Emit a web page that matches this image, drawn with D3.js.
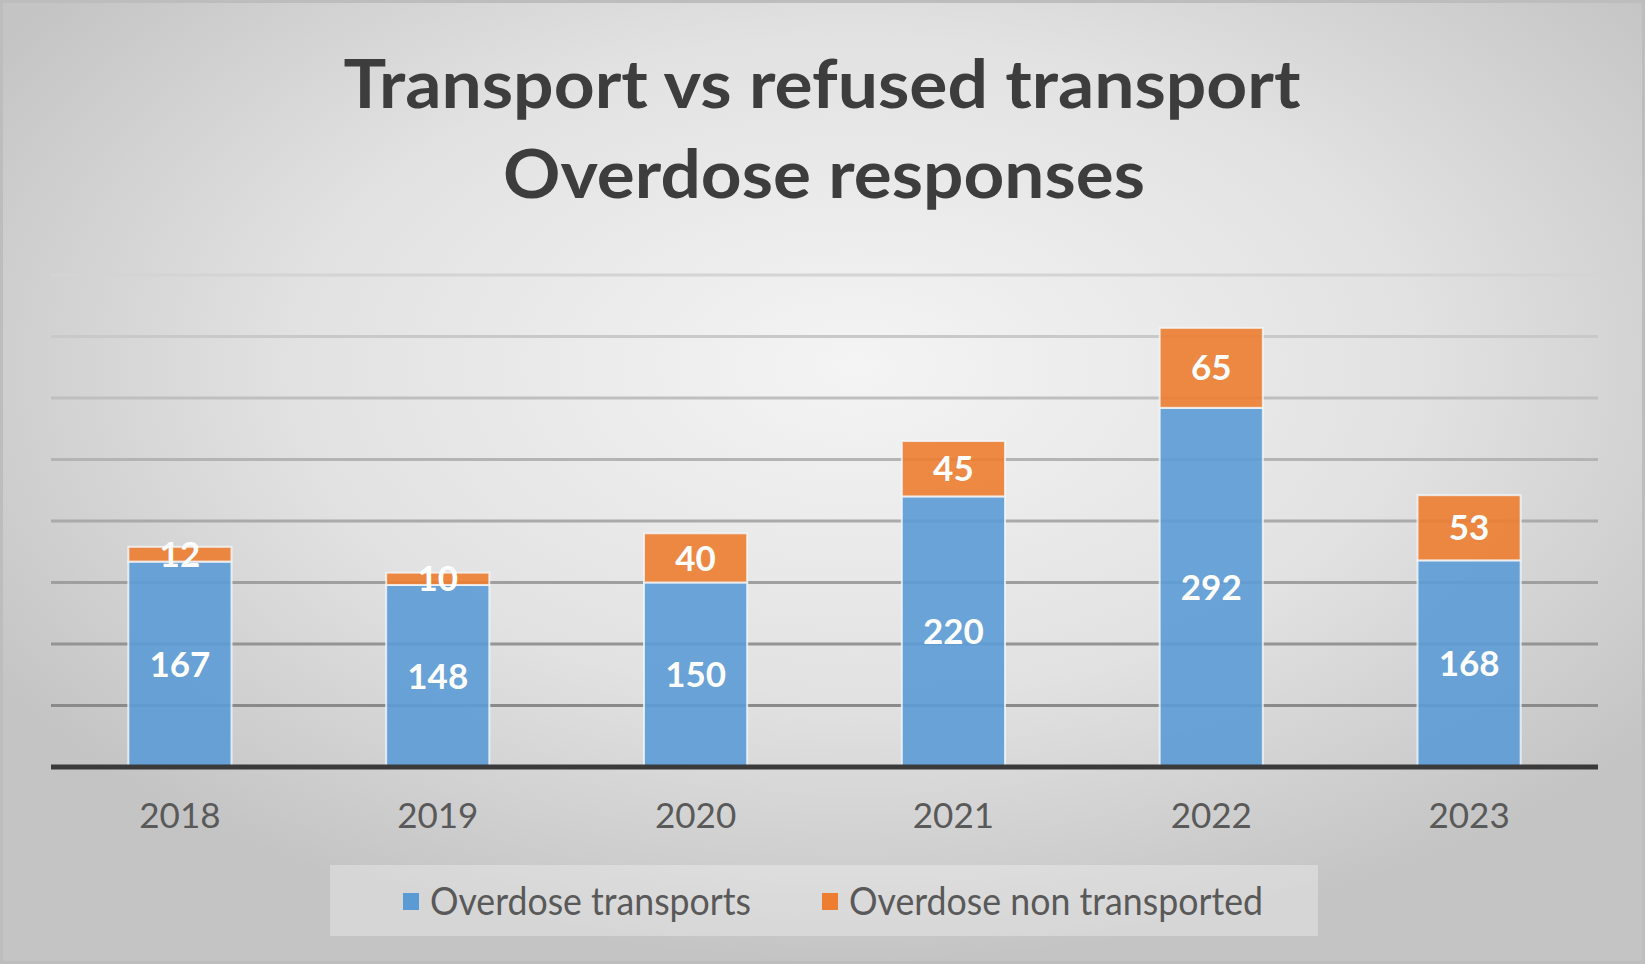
<!DOCTYPE html>
<html>
<head>
<meta charset="utf-8">
<script src="https://cdnjs.cloudflare.com/ajax/libs/d3/7.8.5/d3.min.js"></script>
<style>
    html, body { margin: 0; padding: 0; background: #fff; }
    #chart { width: 1645px; height: 964px; }
    text { font-family: Lato, "Open Sans", sans-serif; }
</style>
</head>
<body>
<div id="chart"></div>
<script>
var years = ['2018', '2019', '2020', '2021', '2022', '2023'];
var transports = [167, 148, 150, 220, 292, 168];
var nonTransported = [12, 10, 40, 45, 65, 53];
var seriesNames = ['Overdose transports', 'Overdose non transported'];
var seriesColors = ['#5b9bd5', '#ed7d31'];
var yMax = 400;
var yStep = 50;

var chartWidth = 1645;
var chartHeight = 964;
var plot = { left: 51, right: 1598, top: 275, bottom: 767 };

var svg = d3.select('#chart').append('svg')
    .attr('width', chartWidth)
    .attr('height', chartHeight);

// background, radial light in the middle, darker at the sides
var defs = svg.append('defs');
var bg = defs.append('radialGradient').attr('id', 'bg')
    .attr('cx', '52%').attr('cy', '38%').attr('r', '62%');
bg.append('stop').attr('offset', '0%').attr('stop-color', '#f4f4f4');
bg.append('stop').attr('offset', '55%').attr('stop-color', '#e2e2e2');
bg.append('stop').attr('offset', '100%').attr('stop-color', '#c4c4c4');

svg.append('rect')
    .attr('x', 1.5).attr('y', 1.5)
    .attr('width', chartWidth - 3).attr('height', chartHeight - 3)
    .style('fill', 'url(#bg)')
    .style('stroke', '#bdbdbd')
    .style('stroke-width', 3);

// title
var title = svg.append('g').attr('class', 'chart-title')
    .style('fill', '#3d3d3d').style('font-weight', 700).style('font-size', '67px')
    .attr('text-anchor', 'middle');
title.append('text').attr('x', 822).attr('y', 108)
    .attr('textLength', 957).attr('lengthAdjust', 'spacingAndGlyphs')
    .text('Transport vs refused transport');
title.append('text').attr('x', 824).attr('y', 198)
    .attr('textLength', 642).attr('lengthAdjust', 'spacingAndGlyphs')
    .text('Overdose responses');

var x = d3.scaleBand().domain(years).range([plot.left, plot.right]).paddingInner(0.6).paddingOuter(0.3);
var y = d3.scaleLinear().domain([0, yMax]).range([plot.bottom, plot.top]);

// gridlines, lighter towards the top
var gridShade = d3.scaleLinear().domain([0, yMax]).range(['#7f7f7f', '#d4d4d4']);
var ticks = d3.range(yStep, yMax + 1, yStep);
svg.append('g').attr('class', 'grid').selectAll('line')
    .data(ticks)
    .enter().append('line')
    .attr('x1', plot.left).attr('x2', plot.right)
    .attr('y1', function(d) { return y(d); })
    .attr('y2', function(d) { return y(d); })
    .style('stroke', function(d) { return gridShade(d); })
    .style('stroke-width', 3);

// stacked bars
var rows = years.map(function(yr, i) {
    return { year: yr, a: transports[i], b: nonTransported[i] };
});
var stack = d3.stack().keys(['a', 'b']);
var layers = stack(rows);

var bars = svg.append('g').attr('class', 'bars');
layers.forEach(function(layer, li) {
    var g = bars.append('g');
    g.selectAll('rect')
        .data(layer)
        .enter().append('rect')
        .attr('x', function(d) { return x(d.data.year); })
        .attr('width', x.bandwidth())
        .attr('y', function(d) { return y(d[1]); })
        .attr('height', function(d) { return y(d[0]) - y(d[1]); })
        .style('fill', seriesColors[li])
        .style('fill-opacity', 0.9)
        .style('stroke', '#f3f7fb')
        .style('stroke-opacity', 0.8)
        .style('stroke-width', 2);
});

// data labels
layers.forEach(function(layer) {
    svg.append('g').selectAll('text')
        .data(layer)
        .enter().append('text')
        .attr('x', function(d) { return x(d.data.year) + x.bandwidth() / 2; })
        .attr('y', function(d) { return (y(d[0]) + y(d[1])) / 2; })
        .attr('dy', '0.36em')
        .attr('text-anchor', 'middle')
        .style('fill', '#fff')
        .style('font-weight', 700)
        .style('font-size', '35px')
        .text(function(d) { return d[1] - d[0]; });
});

// category axis
var xAxis = svg.append('g')
    .attr('transform', 'translate(0,' + plot.bottom + ')')
    .call(d3.axisBottom(x).tickSize(0).tickPadding(36));
xAxis.select('.domain').remove();
xAxis.selectAll('text')
    .style('fill', '#595959')
    .style('font-size', '35px')
    .style('font-family', 'Lato, sans-serif');

svg.append('line')
    .attr('x1', plot.left).attr('x2', plot.right)
    .attr('y1', y(0)).attr('y2', y(0))
    .style('stroke', '#3a3a3a')
    .style('stroke-width', 5);

// legend
var legend = svg.append('g').attr('class', 'legend');
legend.append('rect')
    .attr('x', 330).attr('y', 865).attr('width', 988).attr('height', 71)
    .style('fill', '#ffffff').style('fill-opacity', 0.3);
var legendItems = [
    { mark: 403, text: 430, len: 321 },
    { mark: 822, text: 849, len: 414 }
];
legendItems.forEach(function(item, i) {
    legend.append('rect')
        .attr('x', item.mark).attr('y', 893).attr('width', 16).attr('height', 17)
        .style('fill', seriesColors[i]);
    legend.append('text')
        .attr('x', item.text).attr('y', 915)
        .attr('textLength', item.len).attr('lengthAdjust', 'spacingAndGlyphs')
        .style('fill', '#595959')
        .style('font-size', '38px')
        .text(seriesNames[i]);
});
</script>
</body>
</html>
